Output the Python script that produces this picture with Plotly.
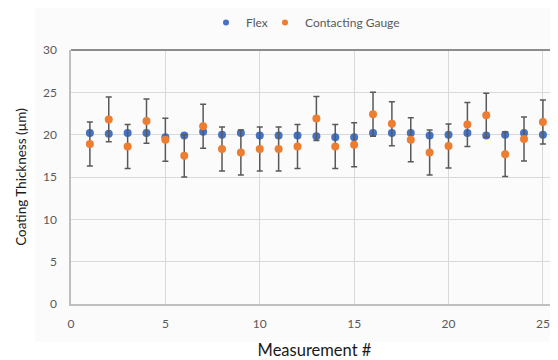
import plotly.graph_objects as go

measurement = list(range(1, 26))
flex = [20.2, 20.1, 20.2, 20.2, 19.7, 19.9, 20.35, 20.0, 20.2, 19.9,
        19.9, 19.9, 19.8, 19.7, 19.7, 20.2, 20.2, 20.2, 19.9, 20.0,
        20.2, 19.9, 20.0, 20.2, 20.0]
gauge = [18.9, 21.8, 18.6, 21.6, 19.4, 17.5, 21.0, 18.3, 17.9, 18.3,
         18.3, 18.6, 21.9, 18.6, 18.8, 22.4, 21.3, 19.4, 17.9, 18.65,
         21.2, 22.3, 17.7, 19.5, 21.5]
gauge_err = [2.6, 2.65, 2.6, 2.6, 2.55, 2.5, 2.6, 2.6, 2.65, 2.6,
             2.6, 2.6, 2.6, 2.6, 2.6, 2.6, 2.6, 2.6, 2.65, 2.6,
             2.6, 2.6, 2.65, 2.6, 2.6]
xticks = [0, 5, 10, 15, 20, 25]
yticks = [0, 5, 10, 15, 20, 25, 30]

BLUE = "#4472C4"
ORANGE = "#ED7D31"
FONT = "Lato, 'Open Sans', sans-serif"
W, H = 550, 352  # page body has an 8px margin

fig = go.Figure()
fig.add_trace(go.Scatter(x=measurement, y=flex, mode="markers", name="Flex",
                         marker=dict(color=BLUE, size=8), showlegend=False))
fig.add_trace(go.Scatter(x=measurement, y=gauge, mode="markers", name="Contacting Gauge",
                         marker=dict(color=ORANGE, size=8), showlegend=False,
                         error_y=dict(type="data", array=gauge_err, visible=True,
                                      color="#595959", thickness=1.5, width=3)))
# legend-only entries with small dots
fig.add_trace(go.Scatter(x=[None], y=[None], mode="markers", name="Flex",
                         marker=dict(color=BLUE, size=6), legend="legend"))
fig.add_trace(go.Scatter(x=[None], y=[None], mode="markers", name="Contacting Gauge",
                         marker=dict(color=ORANGE, size=6), legend="legend2"))

leg_common = dict(orientation="h", yref="container", y=1.0, yanchor="top",
                  xref="container", xanchor="left",
                  font=dict(size=12, color="#595959"), itemwidth=30,
                  bgcolor="rgba(0,0,0,0)")

fig.update_layout(
    width=W, height=H,
    margin=dict(l=63, r=0, t=42, b=56, autoexpand=False),
    paper_bgcolor="white",
    plot_bgcolor="#FBFBFB",
    font=dict(family=FONT, color="#595959", size=12),
    legend=dict(x=198 / W, **leg_common),
    legend2=dict(x=257 / W, **leg_common),
    shapes=[
        dict(type="rect", xref="paper", yref="paper", x0=-0.074, x1=1.0,
             y0=-0.150, y1=1.165, fillcolor="#FBFBFB", line=dict(width=0), layer="below"),
        dict(type="line", xref="paper", yref="paper", x0=0, x1=1, y0=1, y1=1,
             line=dict(color="#8C8C8C", width=2)),
    ],
)
fig.update_xaxes(range=[0, 25.8], tickvals=xticks, showgrid=True, gridcolor="#D9D9D9",
                 gridwidth=1, showline=True, linecolor="#BFBFBF", linewidth=1.5,
                 zeroline=False, ticks="", automargin=False, ticklabelstandoff=8,
                 tickfont=dict(size=12, color="#595959"),
                 title=dict(text="Measurement #", font=dict(size=16.5, color="#1a1a1a"),
                            standoff=28))
fig.update_yaxes(range=[0, 30], tickvals=yticks, showgrid=True, gridcolor="#D9D9D9",
                 gridwidth=1, showline=True, linecolor="#BFBFBF", linewidth=1.5,
                 zeroline=False, ticks="", ticklabelstandoff=10, automargin=False,
                 tickfont=dict(size=12, color="#595959"),
                 title=dict(text="Coating Thickness (µm)", font=dict(size=13.5, color="#1a1a1a"),
                            standoff=13))

fig.write_html("out.html")
